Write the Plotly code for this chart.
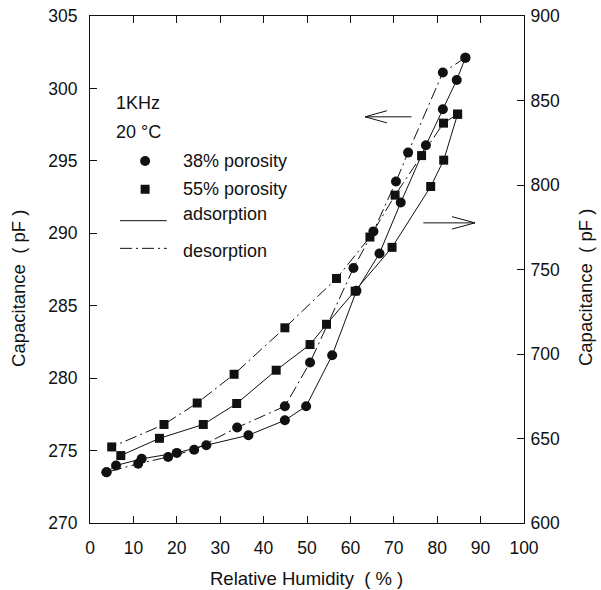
import plotly.graph_objects as go

# ---- data ----
# 38% porosity, left axis (pF)
rh_38_ads = [3.8, 6.0, 11.9, 20.0, 26.8, 36.5, 44.9, 49.8, 55.8, 61.4, 66.7, 71.6, 77.4, 81.3, 84.5, 86.5]
cap_38_ads = [273.5, 273.97, 274.43, 274.84, 275.37, 276.06, 277.09, 278.06, 281.58, 286.03, 288.61, 292.12, 296.08, 298.56, 300.58, 302.12]
rh_38_des = [86.5, 81.3, 73.3, 70.5, 65.3, 60.7, 50.7, 44.9, 33.9, 24.0, 18.0, 11.1, 3.8]
cap_38_des = [302.12, 301.1, 295.57, 293.57, 290.13, 287.6, 281.08, 278.06, 276.59, 275.06, 274.56, 274.09, 273.5]

# 55% porosity, right axis (pF)
rh_55_ads = [7.1, 16.0, 26.1, 33.8, 42.9, 50.7, 54.5, 61.1, 69.6, 78.5, 81.5, 84.7]
cap_55_ads = [639.9, 650.1, 658.3, 670.7, 690.4, 705.6, 717.6, 737.2, 763.1, 799.1, 814.7, 841.9]
rh_55_des = [84.7, 81.45, 76.4, 70.3, 64.5, 56.8, 44.9, 33.2, 24.7, 17.05, 5.0]
cap_55_des = [841.9, 836.6, 817.4, 794.0, 769.2, 744.7, 715.5, 688.0, 671.0, 658.3, 645.0]

x_ticks = [0, 10, 20, 30, 40, 50, 60, 70, 80, 90, 100]
y_left_ticks = [270, 275, 280, 285, 290, 295, 300, 305]
y_right_ticks = [600, 650, 700, 750, 800, 850, 900]

FONT = "Arial, Liberation Sans, Helvetica, sans-serif"
DASHDOT = "12px,4px,2px,4px"
BLACK = "#111111"

fig = go.Figure()
fig.add_trace(go.Scatter(x=rh_38_ads, y=cap_38_ads, mode="lines+markers",
                         line=dict(color=BLACK, width=1),
                         marker=dict(symbol="circle", size=10, color=BLACK),
                         showlegend=False))
fig.add_trace(go.Scatter(x=rh_38_des, y=cap_38_des, mode="lines+markers",
                         line=dict(color=BLACK, width=1, dash=DASHDOT),
                         marker=dict(symbol="circle", size=10, color=BLACK),
                         showlegend=False))
fig.add_trace(go.Scatter(x=rh_55_ads, y=cap_55_ads, mode="lines+markers", yaxis="y2",
                         line=dict(color=BLACK, width=1),
                         marker=dict(symbol="square", size=9, color=BLACK),
                         showlegend=False))
fig.add_trace(go.Scatter(x=rh_55_des, y=cap_55_des, mode="lines+markers", yaxis="y2",
                         line=dict(color=BLACK, width=1, dash=DASHDOT),
                         marker=dict(symbol="square", size=9, color=BLACK),
                         showlegend=False))

shapes = []
# legend glyphs (decoration), anchored in data space, sized in pixels
shapes.append(dict(type="circle", xref="x", yref="y", xsizemode="pixel", ysizemode="pixel",
                   xanchor=12.7, yanchor=294.99, x0=-5, x1=5, y0=-5, y1=5,
                   fillcolor=BLACK, line=dict(width=0)))
shapes.append(dict(type="rect", xref="x", yref="y", xsizemode="pixel", ysizemode="pixel",
                   xanchor=12.7, yanchor=293.04, x0=-4.5, x1=4.5, y0=-4.5, y1=4.5,
                   fillcolor=BLACK, line=dict(width=0)))
shapes.append(dict(type="line", xref="x", yref="y", x0=6.9, x1=17.7, y0=290.87, y1=290.87,
                   line=dict(color=BLACK, width=1)))
shapes.append(dict(type="line", xref="x", yref="y", x0=6.9, x1=17.7, y0=288.96, y1=288.96,
                   line=dict(color=BLACK, width=1, dash=DASHDOT)))
# arrows
shapes.append(dict(type="path", xref="x", yref="y",
                   path="M 74.1,298.04 L 63.4,298.04 M 68.4,298.46 L 63.4,298.04 L 68.4,297.62",
                   line=dict(color=BLACK, width=1)))
shapes.append(dict(type="path", xref="x", yref="y",
                   path="M 76.8,290.72 L 88.7,290.72 M 83.4,291.15 L 88.7,290.72 L 83.4,290.29",
                   line=dict(color=BLACK, width=1)))

ann = []
def txt(x, y, s, size=18):
    ann.append(dict(x=x, y=y, xref="x", yref="y", text=s, showarrow=False,
                    xanchor="left", yanchor="middle",
                    font=dict(family=FONT, size=size, color=BLACK)))

txt(5.6, 299.0, "1KHz")
txt(5.6, 297.0, "20 °C")
txt(20.9, 294.99, "38% porosity")
txt(20.9, 293.04, "55% porosity")
txt(20.9, 291.3, "adsorption")
txt(20.9, 288.8, "desorption")

# axis titles placed as paper annotations
def title(x, y, s, angle=0):
    ann.append(dict(x=x, y=y, xref="paper", yref="paper", text=s, showarrow=False,
                    textangle=angle, xanchor="center", yanchor="middle",
                    font=dict(family=FONT, size=18.5, color=BLACK)))

title(-0.166, 0.4635, "Capacitance  ( pF )", -90)
title(1.1406, 0.4635, "Capacitance  ( pF )", -90)
title(0.499, -0.1085, "Relative Humidity  ( % )")

fig.update_layout(annotations=ann, shapes=shapes)

fig.update_layout(
    width=601, height=590,
    margin=dict(l=90, r=77, t=16, b=67),
    paper_bgcolor="white", plot_bgcolor="white",
    font=dict(family=FONT, size=17.5, color=BLACK),
    xaxis=dict(range=[0, 100], tickvals=x_ticks, ticks="inside", ticklen=7,
               tickcolor=BLACK, showline=True, linecolor=BLACK, linewidth=1,
               mirror="ticks", showgrid=False, zeroline=False, automargin=False,
               ticklabelstandoff=9, ticklabeloverflow="allow"),
    yaxis=dict(range=[270, 305], tickvals=y_left_ticks, ticks="inside", ticklen=7,
               tickcolor=BLACK, showline=True, linecolor=BLACK, linewidth=1,
               showgrid=False, zeroline=False, ticklabelstandoff=8, automargin=False,
               ticklabeloverflow="allow"),
    yaxis2=dict(range=[600, 900], tickvals=y_right_ticks, ticks="inside", ticklen=7,
                tickcolor=BLACK, showline=True, linecolor=BLACK, linewidth=1,
                overlaying="y", side="right", showgrid=False, zeroline=False,
                automargin=False, ticklabelstandoff=2, ticklabeloverflow="allow"),
)

# remove the default 8px page margin so the figure fills the window exactly
fig.write_html("out.html", config={"displayModeBar": False},
               post_script="document.body.style.margin='0';document.body.style.overflow='hidden';")
